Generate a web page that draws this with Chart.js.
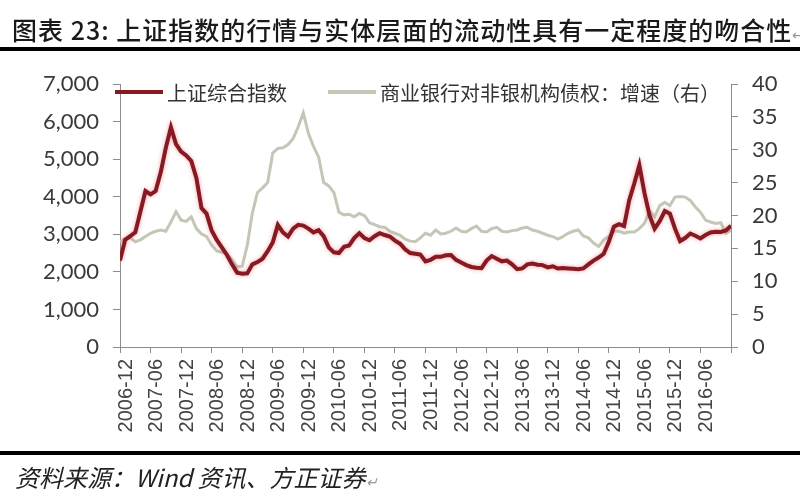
<!DOCTYPE html>
<html>
<head>
<meta charset="utf-8">
<script src="https://cdn.jsdelivr.net/npm/chart.js@4.4.0/dist/chart.umd.min.js"></script>
<style>
  body { margin: 0; background: #fff; }
  #page { position: relative; width: 800px; height: 500px; overflow: hidden; }
  #chart { position: absolute; left: 0; top: 0; }
  .rule { position: absolute; left: 0; width: 800px; height: 4px; background: #000; }
  #title { position: absolute; left: 12px; top: 11px; font: 500 25px "Noto Sans CJK SC", sans-serif; letter-spacing: 1px; color: #1a1a1a; white-space: nowrap; }
  #source { position: absolute; left: 15px; top: 459px; font: italic 24px "Noto Sans CJK SC", sans-serif; color: #222; white-space: nowrap; }
  .ret { color: #999; font-size: 14px; font-weight: normal; }
</style>
</head>
<body>
<div id="page">
  <canvas id="chart" width="800" height="500"></canvas>
  <div id="title">图表 23: 上证指数的行情与实体层面的流动性具有一定程度的吻合性<span class="ret">↵</span></div>
  <div class="rule" style="top:47px"></div>
  <div class="rule" style="top:451px"></div>
  <div id="source">资料来源：Wind 资讯、方正证券<span class="ret">↵</span></div>
</div>
<script>
// month index 0 = 2006-12, one value per month
const tickLabels = ['2006-12','2007-06','2007-12','2008-06','2008-12','2009-06','2009-12','2010-06','2010-12','2011-06',
    '2011-12','2012-06','2012-12','2013-06','2013-12','2014-06','2014-12','2015-06','2015-12','2016-06'];

const shIndex = [
    2300, 2850, 2950, 3050, 3600, 4150, 4060, 4150, 4650, 5300,
    5850, 5400, 5200, 5100, 4950, 4500, 3700, 3550, 3100, 2850,
    2650, 2450, 2200, 1980, 1950, 1960, 2200, 2260, 2350, 2550,
    2780, 3250, 3050, 2940, 3150, 3250, 3230, 3150, 3050, 3110,
    2950, 2650, 2520, 2500, 2670, 2700, 2900, 3030, 2900, 2840,
    2950, 3030, 2980, 2940, 2830, 2750, 2600, 2500, 2480, 2460,
    2280, 2320, 2400, 2400, 2440, 2450, 2320, 2250, 2180, 2130,
    2110, 2100, 2300, 2420, 2350, 2280, 2300, 2200, 2070, 2090,
    2200, 2220, 2190, 2180, 2120, 2150, 2090, 2100, 2090, 2080,
    2070, 2090, 2200, 2300, 2380, 2480, 2800, 3200, 3270, 3220,
    3900, 4350, 4840, 4100, 3500, 3150, 3350, 3620, 3550, 3150,
    2820, 2900, 3020, 2960, 2890, 2980, 3050, 3070, 3060, 3100,
    3230
];

const bankClaims = [
    16.0, 16.5, 16.6, 16.0, 16.3, 16.8, 17.3, 17.6, 17.8, 17.6,
    19.0, 20.6, 19.3, 19.1, 19.8, 18.0, 17.2, 16.8, 15.5, 14.6,
    14.4, 14.2, 13.3, 12.2, 12.3, 15.5, 20.4, 23.5, 24.2, 25.0,
    29.5, 30.2, 30.3, 30.8, 31.7, 33.5, 35.6, 32.5, 30.5, 28.9,
    25.0, 24.5, 23.5, 20.5, 20.1, 20.2, 19.8, 20.3, 20.0, 18.9,
    18.6, 18.3, 18.2, 17.6, 17.3, 17.0, 16.4, 16.1, 16.0, 16.6,
    17.3, 17.0, 17.8, 17.2, 17.3, 17.6, 18.1, 17.6, 17.5, 18.0,
    18.4, 17.6, 17.5, 18.0, 18.2, 17.6, 17.5, 17.7, 17.8, 18.1,
    18.2, 17.8, 17.6, 17.3, 17.0, 16.8, 16.4, 16.8, 17.3, 17.6,
    17.8, 16.9, 16.6, 15.8, 15.3, 16.3, 16.8, 17.6, 17.6, 17.3,
    17.5, 17.5, 18.0, 18.8, 20.7, 19.8, 21.5, 22.0, 21.5, 22.8,
    22.9, 22.8, 22.3, 21.3, 20.5, 19.3, 19.0, 18.8, 18.9, 17.3,
    17.8
];

const seriesNames = ['上证综合指数', '商业银行对非银机构债权：增速（右）'];
const seriesColors = ['#861a22', '#c4c7b5'];

const axisColor = '#8c8c8c';
const tickFont = { family: 'Lato, "Liberation Sans", sans-serif', size: 22 };

// draws the legend inside the plot, like the excel original
const lineLegend = {
    id: 'lineLegend',
    afterDraw(chart) {
        const ctx = chart.ctx;
        const spots = [115, 328];
        ctx.save();
        ctx.font = '20px "Noto Sans CJK SC", sans-serif';
        ctx.textBaseline = 'middle';
        chart.data.datasets.forEach((ds, i) => {
            const x = spots[i], y = 92;
            ctx.strokeStyle = ds.borderColor;
            ctx.lineWidth = 4;
            ctx.beginPath();
            ctx.moveTo(x, y);
            ctx.lineTo(x + 48, y);
            ctx.stroke();
            ctx.fillStyle = '#333';
            ctx.fillText(ds.label, x + 52, y + 1);
        });
        ctx.restore();
    }
};

// soft pink halo round the red line
const redGlow = {
    id: 'redGlow',
    beforeDatasetDraw(chart, args) {
        if (args.index !== 0) return;
        chart.ctx.save();
        chart.ctx.shadowColor = 'rgba(235,90,100,0.55)';
        chart.ctx.shadowBlur = 4;
    },
    afterDatasetDraw(chart, args) {
        if (args.index !== 0) return;
        chart.ctx.restore();
    }
};

new Chart(document.getElementById('chart'), {
    type: 'line',
    data: {
        datasets: [
            {
                label: seriesNames[0],
                data: shIndex.map((v, i) => ({ x: i, y: v })),
                borderColor: seriesColors[0],
                borderWidth: 4,
                pointRadius: 0,
                yAxisID: 'y'
            },
            {
                label: seriesNames[1],
                data: bankClaims.map((v, i) => ({ x: i, y: v })),
                borderColor: seriesColors[1],
                borderWidth: 3,
                pointRadius: 0,
                yAxisID: 'y2'
            }
        ]
    },
    options: {
        responsive: false,
        animation: false,
        layout: { padding: { top: 84, left: 0, right: 0, bottom: 0 } },
        plugins: {
            legend: { display: false },
            tooltip: { enabled: false }
        },
        scales: {
            x: {
                type: 'linear',
                min: 0,
                max: 120,
                afterFit: (s) => { s.height = 153; },
                border: { color: axisColor },
                grid: { drawOnChartArea: false, tickLength: 6, color: axisColor },
                ticks: {
                    stepSize: 6,
                    autoSkip: false,
                    maxRotation: 90,
                    minRotation: 90,
                    labelOffset: 6,
                    padding: 6,
                    color: '#444',
                    font: { family: '"Liberation Sans", Arial, sans-serif', size: 20 },
                    callback: (val, idx) => tickLabels[idx] || ''
                }
            },
            y: {
                position: 'left',
                min: 0,
                max: 7000,
                afterFit: (s) => { s.width = 120; },
                border: { color: axisColor },
                grid: { drawOnChartArea: false, tickLength: 7, color: axisColor },
                ticks: {
                    stepSize: 1000,
                    padding: 14,
                    color: '#3a3a3a',
                    font: tickFont,
                    callback: (val) => val.toLocaleString('en-US')
                }
            },
            y2: {
                position: 'right',
                min: 0,
                max: 40,
                afterFit: (s) => { s.width = 69; },
                border: { color: axisColor },
                grid: { drawOnChartArea: false, tickLength: 7, color: axisColor },
                ticks: {
                    stepSize: 5,
                    padding: 14,
                    color: '#3a3a3a',
                    font: tickFont
                }
            }
        }
    },
    plugins: [lineLegend, redGlow]
});
</script>
</body>
</html>
